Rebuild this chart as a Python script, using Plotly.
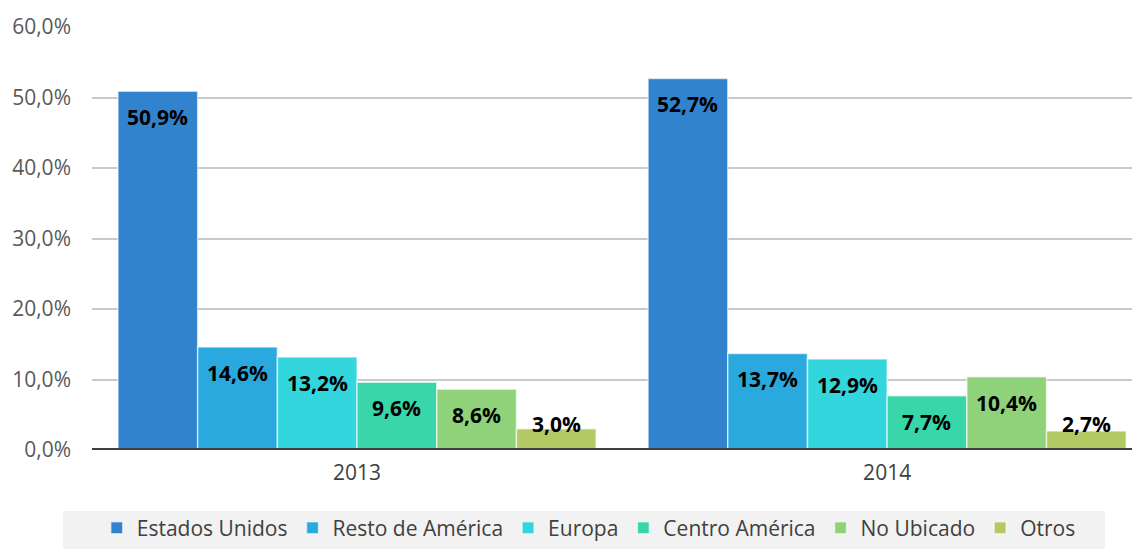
import plotly.graph_objects as go

years = ['2013', '2014']
regions = ['Estados Unidos', 'Resto de América', 'Europa',
           'Centro América', 'No Ubicado', 'Otros']
values = {
    'Estados Unidos': [50.9, 52.7],
    'Resto de América': [14.6, 13.7],
    'Europa': [13.2, 12.9],
    'Centro América': [9.6, 7.7],
    'No Ubicado': [8.6, 10.4],
    'Otros': [3.0, 2.7],
}
colors = ['#3283CE', '#29A9DD', '#33D6DD', '#39D6AA', '#90D27A', '#B3C963']
y_ticks = [0, 10, 20, 30, 40, 50, 60]
y_tick_labels = ['0,0%', '10,0%', '20,0%', '30,0%', '40,0%', '50,0%', '60,0%']

BARGAP = 0.098
bar_w = (1 - BARGAP) / len(regions)

fig = go.Figure()
for i, reg in enumerate(regions):
    fig.add_trace(go.Bar(
        name=reg, x=[0, 1], y=values[reg],
        marker=dict(color=colors[i], line=dict(color='rgba(255,255,255,0.6)', width=1.5)),
        hoverinfo='skip',
    ))
    # data labels, Excel "inside end" style, clamped near the axis
    for j, v in enumerate(values[reg]):
        fig.add_annotation(
            x=j + (i - (len(regions) - 1) / 2) * bar_w,
            y=max(v, 7.4), yshift=-26, yanchor='middle',
            text='<b>' + f'{v:.1f}'.replace('.', ',') + '%</b>',
            showarrow=False,
            font=dict(family='Open Sans', size=21, color='black'),
        )

# page body has an 8px margin, so the figure is drawn 8px smaller
fig.update_layout(
    width=1132, height=541,
    margin=dict(l=84, r=0, t=19, b=99),
    barmode='group', bargap=BARGAP, bargroupgap=0,
    plot_bgcolor='white', paper_bgcolor='white',
    font=dict(family='Open Sans', color='#595959'),
    legend=dict(
        orientation='h', x=0.474, xanchor='center', y=-0.136, yanchor='top',
        bgcolor='rgba(0,0,0,0)', font=dict(size=21, color='#404040'),
        itemwidth=30, tracegroupgap=0,
    ),
)
fig.update_xaxes(
    range=[-0.5, 1.477], tickvals=[0, 1], ticktext=years,
    tickfont=dict(size=21, color='#404040'), showgrid=False,
    ticks='', showline=False, zeroline=False, ticklabelstandoff=8,
)
fig.update_yaxes(
    range=[0, 60], tickvals=y_ticks, ticktext=y_tick_labels,
    tickfont=dict(size=21, color='#595959'),
    showgrid=True, gridcolor='#C9C9C9', gridwidth=1.5,
    zeroline=False, showline=False, ticklabelstandoff=20,
)
# thick baseline at 0
fig.add_shape(type='line', xref='paper', yref='y', x0=0, x1=1, y0=0, y1=0,
              line=dict(color='#404040', width=4))
# legend background band
fig.add_shape(type='rect', xref='paper', yref='paper',
              x0=-0.0277, x1=0.9666, y0=-0.2435, y1=-0.1442,
              fillcolor='#F2F2F2', line=dict(width=0), layer='below')

fig.write_html('out.html')
